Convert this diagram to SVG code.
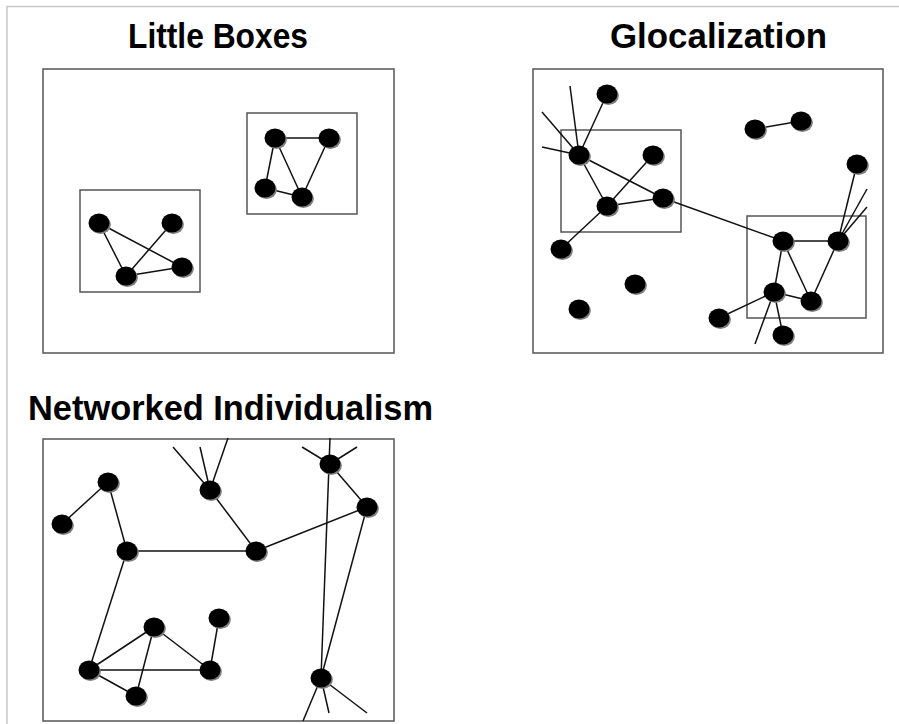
<svg xmlns="http://www.w3.org/2000/svg" xmlns:xlink="http://www.w3.org/1999/xlink" width="899" height="724" viewBox="0 0 899 724">
<style>
.frame{fill:none;stroke:#555;stroke-width:1.5}
.edge{stroke:#111;stroke-width:1.5;fill:none}
.title{font-family:"Liberation Sans",Arial,sans-serif;font-weight:bold;fill:#000}
.border{stroke:#c8c8c8;stroke-width:1.5;fill:none}
</style>
<defs>
<g id="dot">
<ellipse cx="1.4" cy="1.6" rx="10.5" ry="9.5" fill="#808080"/>
<ellipse cx="0" cy="0" rx="10.5" ry="9.5" fill="#000"/>
</g>
</defs>
<rect width="899" height="724" fill="#fff"/>
<path class="border" d="M7 724 V6.5 H899"/>

<g id="titles">
<text class="title" x="128" y="48" font-size="35" textLength="180" lengthAdjust="spacingAndGlyphs">Little Boxes</text>
<text class="title" x="610" y="48" font-size="35" textLength="217" lengthAdjust="spacingAndGlyphs">Glocalization</text>
<text class="title" x="28" y="420" font-size="35" textLength="405" lengthAdjust="spacingAndGlyphs">Networked Individualism</text>
</g>

<g id="frames">
<rect class="frame" x="43" y="69" width="351" height="284"/>
<rect class="frame" x="80" y="190" width="120" height="102"/>
<rect class="frame" x="247" y="113" width="110" height="101"/>
<rect class="frame" x="533" y="69" width="350" height="284"/>
<rect class="frame" x="561" y="130" width="120" height="102"/>
<rect class="frame" x="747" y="216" width="119" height="102"/>
<rect class="frame" x="43" y="439" width="351" height="282"/>
</g>

<g id="connectors">
<!-- Little Boxes -->
<line class="edge" x1="99" y1="223" x2="126" y2="276"/>
<line class="edge" x1="99" y1="223" x2="182" y2="267"/>
<line class="edge" x1="172" y1="223" x2="126" y2="276"/>
<line class="edge" x1="126" y1="276" x2="182" y2="267"/>
<line class="edge" x1="275" y1="138" x2="329" y2="138"/>
<line class="edge" x1="275" y1="138" x2="265" y2="188"/>
<line class="edge" x1="275" y1="138" x2="302" y2="197"/>
<line class="edge" x1="329" y1="138" x2="302" y2="197"/>
<line class="edge" x1="265" y1="188" x2="302" y2="197"/>
<!-- Glocalization -->
<line class="edge" x1="579" y1="155" x2="607" y2="94"/>
<line class="edge" x1="579" y1="155" x2="570" y2="86"/>
<line class="edge" x1="579" y1="155" x2="542" y2="112"/>
<line class="edge" x1="579" y1="155" x2="542" y2="147"/>
<line class="edge" x1="579" y1="155" x2="607" y2="206"/>
<line class="edge" x1="579" y1="155" x2="663" y2="198"/>
<line class="edge" x1="607" y1="206" x2="653" y2="155"/>
<line class="edge" x1="607" y1="206" x2="663" y2="198"/>
<line class="edge" x1="607" y1="206" x2="561" y2="249"/>
<line class="edge" x1="663" y1="198" x2="783" y2="241"/>
<line class="edge" x1="755" y1="129" x2="801" y2="121"/>
<line class="edge" x1="783" y1="241" x2="838" y2="241"/>
<line class="edge" x1="783" y1="241" x2="774" y2="292"/>
<line class="edge" x1="783" y1="241" x2="811" y2="301"/>
<line class="edge" x1="838" y1="241" x2="811" y2="301"/>
<line class="edge" x1="838" y1="241" x2="857" y2="164"/>
<line class="edge" x1="838" y1="241" x2="867" y2="189"/>
<line class="edge" x1="838" y1="241" x2="867" y2="207"/>
<line class="edge" x1="774" y1="292" x2="811" y2="301"/>
<line class="edge" x1="774" y1="292" x2="719" y2="318"/>
<line class="edge" x1="774" y1="292" x2="783" y2="335"/>
<line class="edge" x1="774" y1="292" x2="755" y2="344"/>
<!-- Networked Individualism -->
<line class="edge" x1="108" y1="482" x2="62" y2="524"/>
<line class="edge" x1="108" y1="482" x2="127" y2="551"/>
<line class="edge" x1="127" y1="551" x2="256" y2="551"/>
<line class="edge" x1="210" y1="490" x2="256" y2="551"/>
<line class="edge" x1="210" y1="490" x2="173" y2="447"/>
<line class="edge" x1="210" y1="490" x2="200" y2="447"/>
<line class="edge" x1="210" y1="490" x2="228" y2="438"/>
<line class="edge" x1="256" y1="551" x2="367" y2="507"/>
<line class="edge" x1="330" y1="464" x2="367" y2="507"/>
<line class="edge" x1="330" y1="464" x2="302" y2="447"/>
<line class="edge" x1="330" y1="464" x2="357" y2="447"/>
<line class="edge" x1="330" y1="438" x2="321" y2="678"/>
<line class="edge" x1="367" y1="507" x2="321" y2="678"/>
<line class="edge" x1="127" y1="551" x2="89" y2="670"/>
<line class="edge" x1="89" y1="670" x2="154" y2="627"/>
<line class="edge" x1="89" y1="670" x2="210" y2="670"/>
<line class="edge" x1="89" y1="670" x2="136" y2="696"/>
<line class="edge" x1="154" y1="627" x2="136" y2="696"/>
<line class="edge" x1="154" y1="627" x2="210" y2="670"/>
<line class="edge" x1="210" y1="670" x2="219" y2="618"/>
<line class="edge" x1="321" y1="678" x2="303" y2="721"/>
<line class="edge" x1="321" y1="678" x2="329" y2="713"/>
<line class="edge" x1="321" y1="678" x2="367" y2="713"/>
</g>

<!-- Little Boxes nodes -->
<g id="lb-n1"><use xlink:href="#dot" x="99" y="223"/></g>
<g id="lb-n2"><use xlink:href="#dot" x="172" y="223"/></g>
<g id="lb-n3"><use xlink:href="#dot" x="182" y="267"/></g>
<g id="lb-n4"><use xlink:href="#dot" x="126" y="276"/></g>
<g id="lb-n5"><use xlink:href="#dot" x="275" y="138"/></g>
<g id="lb-n6"><use xlink:href="#dot" x="329" y="138"/></g>
<g id="lb-n7"><use xlink:href="#dot" x="265" y="188"/></g>
<g id="lb-n8"><use xlink:href="#dot" x="302" y="197"/></g>

<!-- Glocalization nodes -->
<g id="gl-n1"><use xlink:href="#dot" x="607" y="94"/></g>
<g id="gl-n2"><use xlink:href="#dot" x="579" y="155"/></g>
<g id="gl-n3"><use xlink:href="#dot" x="653" y="155"/></g>
<g id="gl-n4"><use xlink:href="#dot" x="663" y="198"/></g>
<g id="gl-n5"><use xlink:href="#dot" x="607" y="206"/></g>
<g id="gl-n6"><use xlink:href="#dot" x="561" y="249"/></g>
<g id="gl-n7"><use xlink:href="#dot" x="635" y="284"/></g>
<g id="gl-n8"><use xlink:href="#dot" x="579" y="309"/></g>
<g id="gl-n9"><use xlink:href="#dot" x="755" y="129"/></g>
<g id="gl-n10"><use xlink:href="#dot" x="801" y="121"/></g>
<g id="gl-n11"><use xlink:href="#dot" x="857" y="164"/></g>
<g id="gl-n12"><use xlink:href="#dot" x="783" y="241"/></g>
<g id="gl-n13"><use xlink:href="#dot" x="838" y="241"/></g>
<g id="gl-n14"><use xlink:href="#dot" x="774" y="292"/></g>
<g id="gl-n15"><use xlink:href="#dot" x="811" y="301"/></g>
<g id="gl-n16"><use xlink:href="#dot" x="719" y="318"/></g>
<g id="gl-n17"><use xlink:href="#dot" x="783" y="335"/></g>

<!-- Networked Individualism nodes -->
<g id="ni-n1"><use xlink:href="#dot" x="108" y="482"/></g>
<g id="ni-n2"><use xlink:href="#dot" x="62" y="524"/></g>
<g id="ni-n3"><use xlink:href="#dot" x="127" y="551"/></g>
<g id="ni-n4"><use xlink:href="#dot" x="210" y="490"/></g>
<g id="ni-n5"><use xlink:href="#dot" x="256" y="551"/></g>
<g id="ni-n6"><use xlink:href="#dot" x="330" y="464"/></g>
<g id="ni-n7"><use xlink:href="#dot" x="367" y="507"/></g>
<g id="ni-n8"><use xlink:href="#dot" x="154" y="627"/></g>
<g id="ni-n9"><use xlink:href="#dot" x="219" y="618"/></g>
<g id="ni-n10"><use xlink:href="#dot" x="89" y="670"/></g>
<g id="ni-n11"><use xlink:href="#dot" x="210" y="670"/></g>
<g id="ni-n12"><use xlink:href="#dot" x="136" y="696"/></g>
<g id="ni-n13"><use xlink:href="#dot" x="321" y="678"/></g>
</svg>
